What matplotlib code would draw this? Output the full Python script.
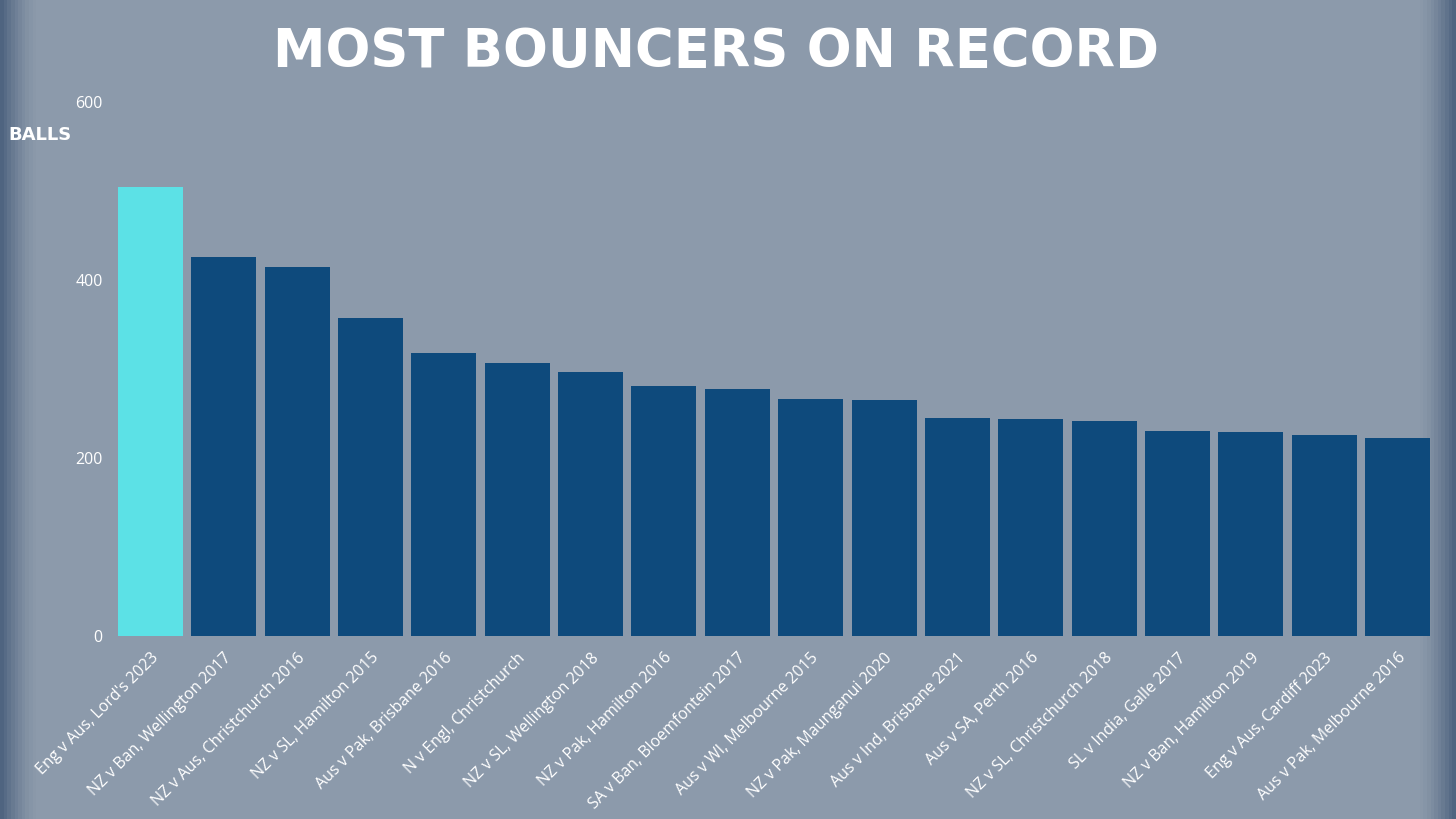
import matplotlib
matplotlib.use("Agg")
import matplotlib.pyplot as plt
import numpy as np

categories = [
    "Eng v Aus, Lord's 2023", "NZ v Ban, Wellington 2017", "NZ v Aus, Christchurch 2016",
    "NZ v SL, Hamilton 2015", "Aus v Pak, Brisbane 2016", "N v Engl, Christchurch",
    "NZ v SL, Wellington 2018", "NZ v Pak, Hamilton 2016", "SA v Ban, Bloemfontein 2017",
    "Aus v WI, Melbourne 2015", "NZ v Pak, Maunganui 2020", "Aus v Ind, Brisbane 2021",
    "Aus v SA, Perth 2016", "NZ v SL, Christchurch 2018", "SL v India, Galle 2017",
    "NZ v Ban, Hamilton 2019", "Eng v Aus, Cardiff 2023", "Aus v Pak, Melbourne 2016",
]
balls = [504, 426, 415, 357, 318, 307, 297, 281, 278, 266, 265, 245, 244, 242, 230, 229, 226, 222]
yticks = [0, 200, 400, 600]

W, H = 1456, 819
fig = plt.figure(figsize=(W / 100, H / 100), dpi=100)
fig.patch.set_facecolor("#8a98a9")

# background with darker vignette edges
bg = fig.add_axes([0, 0, 1, 1], zorder=-10)
xx = np.linspace(-1, 1, 400)
yy = np.linspace(-1, 1, 240)
X, Y = np.meshgrid(xx, yy)
edge = np.clip((np.abs(X) - 0.95) / 0.05, 0, 1) ** 1.5
base = np.array([0x8c, 0x9a, 0xab]) / 255.0
dark = np.array([0x4f, 0x64, 0x80]) / 255.0
img = base[None, None, :] * (1 - edge[..., None]) + dark[None, None, :] * edge[..., None]
bg.imshow(img, aspect="auto", extent=[0, 1, 0, 1])
bg.set_axis_off()

left = 118 / W
right = 1430 / W
bottom = 1 - 636 / H
top = 1 - 102 / H
ax = fig.add_axes([left, bottom, right - left, top - bottom])
ax.set_facecolor("none")

bw = 0.886
x = np.arange(len(categories))
colors = ["#5ce1e6"] + ["#0e4a7c"] * (len(categories) - 1)
ax.bar(x, balls, width=bw, color=colors, zorder=3)
ax.set_xlim(-bw / 2, len(categories) - 1 + bw / 2)
ax.set_ylim(0, 600)
ax.set_yticks(yticks)
ax.set_yticklabels([str(v) for v in yticks], color="white", fontsize=11.5, family="Open Sans")
ax.tick_params(axis="y", length=0, pad=11)
ax.set_xticks(x)
ax.set_xticklabels(categories, rotation=45, ha="right", rotation_mode="anchor",
                   color="white", fontsize=11.5, family="Open Sans")
ax.tick_params(axis="x", length=0, pad=10)
for s in ax.spines.values():
    s.set_visible(False)

fig.text(716 / W, 1 - 52 / H, "MOST BOUNCERS ON RECORD", ha="center", va="center",
         color="white", fontsize=38, fontweight="heavy", family="DejaVu Sans")
fig.text(8 / W, 1 - 135 / H, "BALLS", ha="left", va="center", color="white",
         fontsize=13, fontweight="heavy", family="DejaVu Sans")

fig.savefig("out.png", dpi=100)
